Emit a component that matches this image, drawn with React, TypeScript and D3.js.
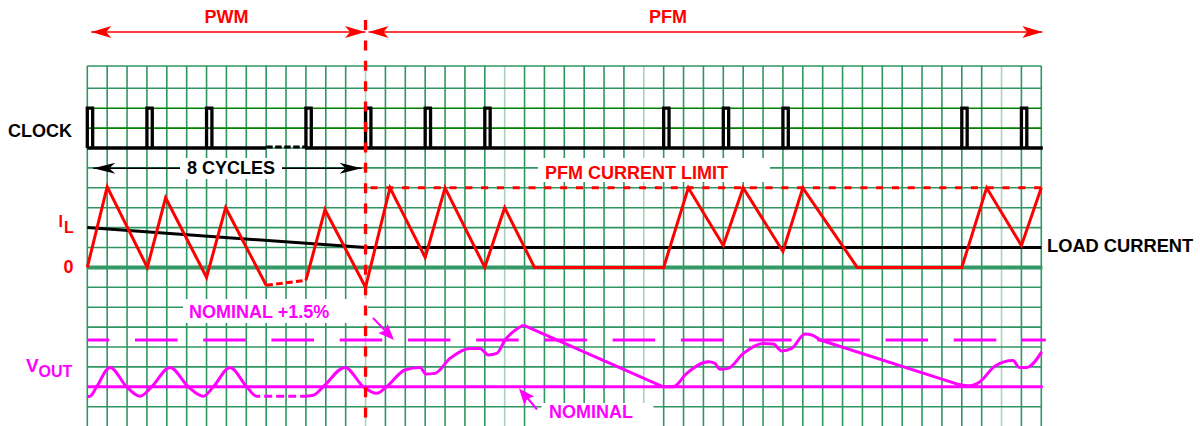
import React from "react";
import * as d3 from "d3";

const W = 1200;
const H = 426;

// grid
const gridCols = d3.range(0, 49);
const gridRows = d3.range(0, 17);
const lightCols = [14, 21, 28, 46];
const darkRows = [1, 2];

// clock pulses (grid column of rising edge)
const clockPulses = [0, 3, 6, 11, 14, 17, 20, 29, 32, 35, 44, 47];
const clockGap = [9, 10.95];

// inductor current [col, units] (PFM limit = 4)
const ilPart1: [number, number][] = [[0, 0], [1, 4.05], [3.02, 0], [3.94, 3.5], [6, -0.5], [6.96, 3], [9, -0.9]];
const ilDashed: [number, number][] = [[9, -0.9], [11, -0.65]];
const ilPart2: [number, number][] = [
  [11, -0.65], [11.96, 2.9], [14, -1], [15.23, 4], [17, 0.5], [18, 4], [20, 0], [21, 3], [22.5, 0],
  [29, 0], [30.24, 4], [32, 1.1], [33, 4], [35, 0.8], [36, 4], [38.74, 0], [44, 0], [45.25, 4],
  [47, 1.1], [48, 4],
];
const loadCurrent: [number, number][] = [[0, 2], [14, 1], [48, 1]];
const pfmLimit = 4;

// output voltage [col, % above nominal]
const voutA: [number, number][] = [
  [0, -0.32], [0.15, -0.3], [0.47, 0], [1.14, 0.62], [1.98, 0], [2.65, -0.3], [3.24, 0], [4.16, 0.62],
  [5.08, 0], [5.84, -0.3], [6.34, 0], [7.18, 0.62], [8.02, 0], [8.52, -0.3], [8.7, -0.3],
];
const voutDashed: [number, number][] = [[8.9, -0.3], [11.0, -0.3]];
const voutB: [number, number][] = [
  [11.0, -0.3], [11.37, -0.27], [11.87, 0], [12.97, 0.62], [13.89, 0], [14.56, -0.21], [15.06, 0],
  [15.98, 0.54], [16.74, 0.62], [17.04, 0.41], [17.49, 0.43], [18.25, 0.91], [19.25, 1.23],
  [19.76, 1.23], [20.18, 1.02], [20.6, 1.07], [21.02, 1.5], [21.94, 1.98],
];
const voutDrop1: [number, number][] = [[21.94, 1.98], [28.98, 0]];
const voutC: [number, number][] = [
  [28.98, 0], [29.48, 0], [30.16, 0.43], [31.25, 0.8], [31.58, 0.75], [31.83, 0.56], [32.25, 0.59],
  [33.01, 1.07], [34.01, 1.39], [34.52, 1.37], [34.94, 1.15], [35.44, 1.23], [36.11, 1.69],
  [36.45, 1.66], [36.87, 1.5],
];
const voutDrop2: [number, number][] = [[36.87, 1.5], [43.82, 0.08]];
const voutD: [number, number][] = [
  [43.82, 0.08], [44.41, 0.03], [44.91, 0.16], [45.66, 0.66], [46.58, 0.84], [46.89, 0.62],
  [47.26, 0.62], [48.02, 1.12],
];
const nominalPlus = 1.5;
const boundaryCol = 14;

const GRID = "#2f9662";
const DARK = "#008000";
const LIGHT = "#a6d4ba";
const RED = "#ff0000";
const MAG = "#ff00ff";
const FONT = "'Liberation Sans', Arial, Helvetica, sans-serif";

const x = d3.scaleLinear().domain([0, 48]).range([87.3, 1041.3]);
const yRow = d3.scaleLinear().domain([0, 16]).range([88.3, 406.7]);
const iY = d3.scaleLinear().domain([0, 4]).range([yRow(9), yRow(5)]);
const vY = d3.scaleLinear().domain([0, 1.5]).range([yRow(15), 340]);
const clkY = d3.scaleLinear().domain([0, 1]).range([yRow(3), yRow(1)]);
const GRID_TOP = 66;

const lineI = d3.line<[number, number]>().x(d => x(d[0])).y(d => iY(d[1]));
const lineV = d3.line<[number, number]>().x(d => x(d[0])).y(d => vY(d[1])).curve(d3.curveMonotoneX);
const lineVlin = d3.line<[number, number]>().x(d => x(d[0])).y(d => vY(d[1]));

function arrowHead(tx: number, ty: number, dx: number, dy: number, L: number, h: number, notch: number) {
  const len = Math.hypot(dx, dy);
  const ux = dx / len, uy = dy / len; // direction toward tip
  const px = -uy, py = ux;
  const bx = tx - ux * L, by = ty - uy * L;
  const nx = tx - ux * (L - notch), ny = ty - uy * (L - notch);
  return `M${tx},${ty}L${bx + px * h},${by + py * h}L${nx},${ny}L${bx - px * h},${by - py * h}Z`;
}

export default function App() {
  const xb = x(boundaryCol);
  const clockPath = clockPulses
    .map(c => {
      const x0 = x(c);
      const x1 = x(c + 0.27);
      return `M${x0},${clkY(0)}V${clkY(1)}H${x1 + 1.5}M${x1},${clkY(1)}V${clkY(0)}`;
    })
    .join("");

  const tb = { fontFamily: FONT, fontWeight: 700 } as React.CSSProperties;

  return (
    <svg width={W} height={H} style={{ position: "absolute", left: 0, top: 0, background: "#fff" }}>
      {/* grid */}
      <g>
        {gridCols.map(c => (
          <line key={"v" + c} x1={x(c)} x2={x(c)} y1={GRID_TOP} y2={H}
            stroke={lightCols.includes(c) ? LIGHT : GRID} strokeWidth={1.6} />
        ))}
        <line x1={x(0)} x2={x(48)} y1={GRID_TOP} y2={GRID_TOP} stroke={GRID} strokeWidth={1.6} />
        {gridRows.map(r => (
          <line key={"h" + r} x1={x(0)} x2={x(48)} y1={yRow(r)} y2={yRow(r)}
            stroke={darkRows.includes(r) ? DARK : GRID} strokeWidth={1.6} />
        ))}
      </g>

      {/* header arrows */}
      <line x1={x(0) + 4} x2={xb} y1={32} y2={32} stroke={RED} strokeWidth={1.4} />
      <path d={arrowHead(x(0) + 4, 32, -1, 0, 20, 6, 5)} fill={RED} />
      <path d={arrowHead(xb - 0.5, 32, 1, 0, 20, 6, 5)} fill={RED} />
      <line x1={xb + 3} x2={x(48) + 1} y1={32} y2={32} stroke={RED} strokeWidth={1.4} />
      <path d={arrowHead(xb + 3, 32, -1, 0, 20, 6, 5)} fill={RED} />
      <path d={arrowHead(x(48) + 1, 32, 1, 0, 20, 6, 5)} fill={RED} />
      <text x={(x(0) + xb) / 2} y={23.3} textAnchor="middle" fontSize={18} fill={RED} style={tb}>PWM</text>
      <text x={668} y={23.3} textAnchor="middle" fontSize={18} fill={RED} style={tb}>PFM</text>

      {/* 8 cycles arrow */}
      <line x1={x(0) + 6} x2={xb - 4} y1={168.3} y2={168.3} stroke="#000" strokeWidth={1.4} />
      <path d={arrowHead(x(0) + 6, 168.3, -1, 0, 22, 5.5, 6)} fill="#000" />
      <path d={arrowHead(xb - 4, 168.3, 1, 0, 22, 5.5, 6)} fill="#000" />

      {/* white label boxes */}
      <rect x={180} y={158} width={102} height={21} fill="#fff" />
      <rect x={538} y={158} width={232} height={24} fill="#fff" />
      <rect x={183} y={299} width={185} height={24} fill="#fff" />
      <rect x={541.5} y={403} width={112} height={23} fill="#fff" />

      {/* zero line for inductor current */}
      <line x1={x(0)} x2={x(48) + 1} y1={iY(0)} y2={iY(0)} stroke="#339966" strokeWidth={4} />

      {/* PFM current limit */}
      <line x1={xb + 5} x2={x(48) + 1} y1={iY(pfmLimit)} y2={iY(pfmLimit)} stroke={RED}
        strokeWidth={3} strokeDasharray="7 8.8" />

      {/* load current */}
      <path d={lineI(loadCurrent) || ""} fill="none" stroke="#000" strokeWidth={3} />

      {/* inductor current */}
      <path d={lineI(ilPart1) || ""} fill="none" stroke={RED} strokeWidth={3} strokeLinejoin="miter" />
      <path d={lineI(ilDashed) || ""} fill="none" stroke={RED} strokeWidth={3} strokeDasharray="6.7 3.3" />
      <path d={lineI(ilPart2) || ""} fill="none" stroke={RED} strokeWidth={3} strokeLinejoin="miter" />

      {/* VOUT nominal and +1.5% */}
      <line x1={x(0)} x2={x(48) + 1.5} y1={vY(0)} y2={vY(0)} stroke={MAG} strokeWidth={3} />
      <line x1={x(0)} x2={x(48) + 4.5} y1={vY(nominalPlus)} y2={vY(nominalPlus)} stroke={MAG}
        strokeWidth={3} strokeDasharray="42.5 25.73" strokeDashoffset={20.53} />

      {/* VOUT waveform */}
      <g fill="none" stroke={MAG} strokeWidth={3}>
        <path d={lineV(voutA) || ""} />
        <path d={lineVlin(voutDashed) || ""} strokeDasharray="8 4" />
        <path d={lineV(voutB) || ""} />
        <path d={lineVlin(voutDrop1) || ""} />
        <path d={lineV(voutC) || ""} />
        <path d={lineVlin(voutDrop2) || ""} />
        <path d={lineV(voutD) || ""} />
      </g>

      {/* VOUT annotations */}
      <line x1={373} y1={318} x2={387} y2={332.5} stroke={MAG} strokeWidth={2} />
      <path d={arrowHead(394, 340, 21, 22, 16, 6.5, 3)} fill={MAG} />
      <line x1={537} y1={409.5} x2={525} y2={395} stroke={MAG} strokeWidth={2} />
      <path d={arrowHead(519, 388.5, -18, -21.5, 16, 6.5, 3)} fill={MAG} />

      {/* clock */}
      <g fill="none" stroke="#000" strokeWidth={3.3}>
        <line x1={x(0)} x2={x(clockGap[0])} y1={clkY(0)} y2={clkY(0)} />
        <line x1={x(clockGap[1])} x2={x(48) + 1.5} y1={clkY(0)} y2={clkY(0)} />
        <line x1={x(clockGap[0])} x2={x(clockGap[1])} y1={clkY(0) - 1} y2={clkY(0) - 1}
          strokeWidth={3} strokeDasharray="6.5 2.5" />
        <path d={clockPath} strokeLinejoin="miter" />
      </g>

      {/* boundary */}
      <line x1={xb} x2={xb} y1={20} y2={H} stroke={RED} strokeWidth={3.3} strokeDasharray="10 10.4" />

      {/* texts */}
      <text x={8} y={136.7} fontSize={18} fill="#000" style={tb}>CLOCK</text>
      <text x={231} y={173.5} textAnchor="middle" fontSize={18} fill="#000" style={tb}>8 CYCLES</text>
      <text x={545} y={179.3} fontSize={18} fill={RED} style={tb}>PFM CURRENT LIMIT</text>
      <text x={1047} y={251.7} fontSize={18.3} fill="#000" style={tb}>LOAD CURRENT</text>
      <text x={58.5} y={226.7} fontSize={16} fill={RED} style={tb}>I</text>
      <text x={64} y={233.3} fontSize={16} fill={RED} style={tb}>L</text>
      <text x={63.5} y={272.7} fontSize={18} fill={RED} style={tb}>0</text>
      <text x={26} y={372} fontSize={19} fill={MAG} style={tb}>V</text>
      <text x={38.5} y={377} fontSize={16} fill={MAG} style={tb}>OUT</text>
      <text x={189} y={318.3} fontSize={18} fill={MAG} style={tb}>NOMINAL +1.5%</text>
      <text x={549} y={418.3} fontSize={18} fill={MAG} style={tb}>NOMINAL</text>
    </svg>
  );
}
